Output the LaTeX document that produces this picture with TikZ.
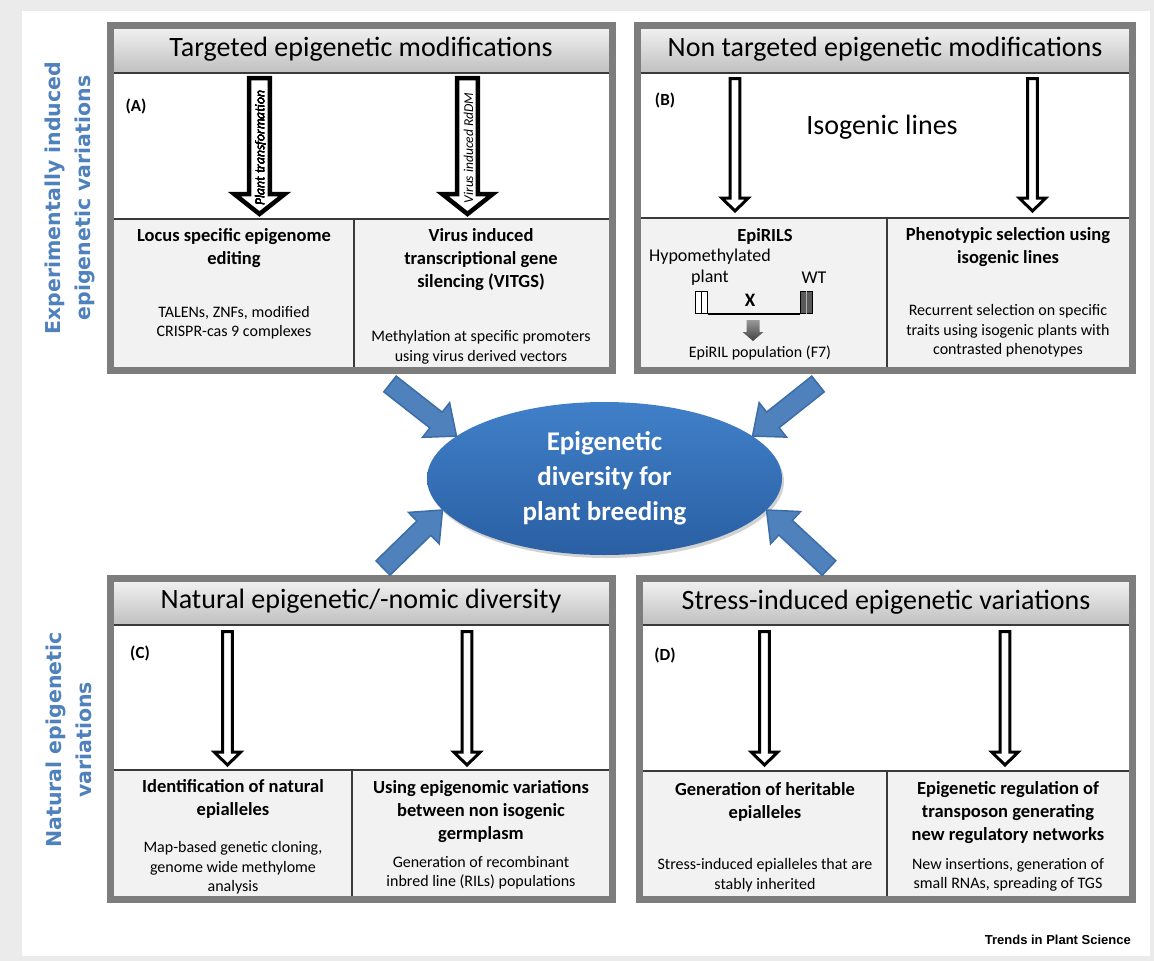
\documentclass[tikz,border=0pt]{standalone}
\usepackage{fontspec}
\setmainfont{Carlito}
\newfontfamily\sidefont{DejaVu Sans}
\newfontfamily\journalfont{Liberation Sans}
\usetikzlibrary{calc,positioning,shapes.geometric,shadows}
\definecolor{backgray}{HTML}{EBEBEB}
\definecolor{framegray}{HTML}{7D7D7D}
\definecolor{cellgray}{HTML}{F2F2F2}
\definecolor{rulegray}{HTML}{3A3A3A}
\definecolor{accentblue}{HTML}{4F81BD}
\definecolor{accentedge}{HTML}{3C6DA8}
\definecolor{coretop}{HTML}{4080C8}
\definecolor{corebottom}{HTML}{2A5FA3}
\tikzset{
  epbox/.style={draw=framegray, line width=7pt},
  ephead/.style={top color=black!6, bottom color=black!25},
  eprule/.style={draw=rulegray, line width=1.5pt},
  ephollow/.style={draw=black, fill=white, line width=4.5pt, line join=miter},
  epthin/.style={draw=black, fill=white, line width=3pt, line join=miter},
  epdark/.style={top color=black!40, bottom color=black!75, draw=none},
  eptitle/.style={font=\fontsize{28}{34}\selectfont, inner sep=0pt},
  epbold/.style={font=\bfseries\fontsize{18.5}{23}\selectfont, align=center, inner sep=0pt},
  epsmall/.style={font=\fontsize{16}{19.5}\selectfont, align=center, inner sep=0pt},
  epplain/.style={font=\fontsize{18}{21}\selectfont, inner sep=0pt},
  eptag/.style={font=\bfseries\fontsize{17}{20}\selectfont, inner sep=0pt},
  epvert/.style={font=\itshape\fontsize{13.5}{16}\selectfont, rotate=90, inner sep=0pt},
  epside/.style={font=\sidefont\bfseries\fontsize{20.5}{30}\selectfont, text=accentblue,
    align=center, rotate=90, inner sep=0pt},
  epbig/.style={fill=accentblue, draw=accentedge, line width=1.5pt, line join=miter},
  epcore/.style={ellipse, minimum width=355pt, minimum height=153pt, inner sep=0pt,
    top color=coretop, bottom color=corebottom, draw=none, text=white, align=center,
    font=\bfseries\fontsize{27}{35}\selectfont,
    drop shadow={opacity=0.35, shadow xshift=2pt, shadow yshift=-3pt}}
}
% hollow down arrow: style, top, tip, head length, shaft half width, head half width
\newcommand{\ephollowarrow}[6]{%
  \draw[#1] ($(#2)+(-#5,0)$) -- ($(#3)+(-#5,-#4)$) -- ($(#3)+(-#6,-#4)$) -- (#3)
    -- ($(#3)+(#6,-#4)$) -- ($(#3)+(#5,-#4)$) -- ($(#2)+(#5,0)$) -- cycle;}
% blue block arrow from tail to tip
\newcommand{\epblock}[2]{%
  \coordinate (ebBase) at ($(#2)!26pt!(#1)$);
  \draw[epbig] ($(#1)!10pt!90:(#2)$) -- ($(ebBase)!10pt!90:(#2)$) -- ($(ebBase)!22pt!90:(#2)$)
    -- (#2) -- ($(ebBase)!22pt!-90:(#2)$) -- ($(ebBase)!10pt!-90:(#2)$) -- ($(#1)!10pt!-90:(#2)$) -- cycle;}

\begin{document}
\begin{tikzpicture}[x=1pt, y=-1pt]
\useasboundingbox (0,0) rectangle (1154,961);
\fill[backgray] (0,0) rectangle (1154,961);
\fill[white] (22,11) rectangle (1150,956);

% the four panels
\foreach \xa/\ya/\xb/\yb/\yh/\ys/\xd in {107/22/616/374/73/219/354, 634/22/1136/374/73/218/887,
    107/575/616/903/625/770/352, 636/575/1136/903/625/771/887}{
  \fill[cellgray] ({\xa+7},\ys) rectangle ({\xb-7},{\yb-7});
  \shade[ephead] ({\xa+7},{\ya+7}) rectangle ({\xb-7},\yh);
  \draw[eprule] ({\xa+7},\yh) -- ({\xb-7},\yh);
  \draw[eprule] ({\xa+7},\ys) -- ({\xb-7},\ys);
  \draw[eprule] (\xd,\ys) -- (\xd,{\yb-7});
  \draw[epbox] ({\xa+3.5},{\ya+3.5}) rectangle ({\xb-3.5},{\yb-3.5});
}

\node[eptitle] (hdA) at (361,49) {Targeted epigenetic modifications};
\node[eptitle] (hdB) at (885,49) {Non targeted epigenetic modifications};
\node[eptitle] (hdC) at (361,601) {Natural epigenetic/-nomic diversity};
\node[eptitle] (hdD) at (886,602) {Stress-induced epigenetic variations};

\node[eptag] (tagA) at (136,106) {(A)};
\node[eptag] (tagB) at (665,100) {(B)};
\node[eptag] (tagC) at (140,653) {(C)};
\node[eptag] (tagD) at (665,655) {(D)};

\node[epside] (sideTop) at (70,198) {Experimentally induced\\epigenetic variations};
\node[epside] (sideBot) at (69,740) {Natural epigenetic\\variations};

\node[eptitle] (iso) at (882,127) {Isogenic lines};

% hollow arrows
\coordinate (topA1) at (259.5,78);   \coordinate (tipA1) at (259.5,214);
\coordinate (topA2) at (467.5,78);   \coordinate (tipA2) at (467.5,214);
\coordinate (topB1) at (735,78.5);   \coordinate (tipB1) at (735,211);
\coordinate (topB2) at (1032.5,78.5);\coordinate (tipB2) at (1032.5,211);
\coordinate (topC1) at (227.5,631.5);\coordinate (tipC1) at (227.5,765);
\coordinate (topC2) at (467,631.5);  \coordinate (tipC2) at (467,765);
\coordinate (topD1) at (764.5,631.5);\coordinate (tipD1) at (764.5,765);
\coordinate (topD2) at (1005,631.5); \coordinate (tipD2) at (1005,765);
\ephollowarrow{ephollow}{topA1}{tipA1}{20}{10.3}{25.3}
\ephollowarrow{ephollow}{topA2}{tipA2}{20}{10.3}{25.3}
\foreach \n in {B1,B2,C1,C2,D1,D2}
  \ephollowarrow{epthin}{top\n}{tip\n}{13}{4.8}{13.3}
\node[epvert] (lblA1) at (260.5,148) {Plant transformation};
\node[epvert] (lblA2) at (468.5,148) {Virus induced RdDM};

% panel A cells
\node[epbold] (cellA1) at (234,248.5) {Locus specific epigenome\\editing};
\node[epsmall] (noteA1) at (234,322.5) {TALENs, ZNFs, modified\\CRISPR-cas 9 complexes};
\node[epbold] (cellA2) at (481,260) {Virus induced\\transcriptional gene\\silencing (VITGS)};
\node[epsmall] (noteA2) at (481,347.5) {Methylation at specific promoters\\using virus derived vectors};

% panel B cells
\node[epbold] (cellB1) at (765,236) {EpiRILS};
\node[epplain] (hypoTxt) at (710,257) {Hypomethylated};
\node[epplain] (plantTxt) at (710,278) {plant};
\node[epplain] (wtTxt) at (814,278) {WT};
\node[draw, line width=1pt, fill=white, minimum width=12pt, minimum height=22pt, inner sep=0pt] (hypoBar) at (701,302) {};
\draw[line width=0.8pt] (hypoBar.north) -- (hypoBar.south);
\node[draw, line width=1pt, fill=black!65, minimum width=12pt, minimum height=22pt, inner sep=0pt] (wtBar) at (806,302) {};
\draw[line width=1pt, black!30] (wtBar.north) -- (wtBar.south);
\draw[line width=2pt] (hypoBar.south east) -- (wtBar.south west);
\node[font=\bfseries\fontsize{19}{21}\selectfont, inner sep=0pt] (cross) at (750,300) {X};
\coordinate (topEpi) at (753,320); \coordinate (tipEpi) at (753,341);
\ephollowarrow{epdark}{topEpi}{tipEpi}{9}{6.5}{10.5}
\node[epsmall] (popTxt) at (760,353) {EpiRIL population (F7)};
\node[epbold] (cellB2) at (1008,247) {Phenotypic selection using\\isogenic lines};
\node[epsmall] (noteB2) at (1008,331) {Recurrent selection on specific\\traits using isogenic plants with\\contrasted phenotypes};

% panel C cells
\node[epbold] (cellC1) at (233,798.5) {Identification of natural\\epialleles};
\node[epsmall] (noteC1) at (233,868) {Map-based genetic cloning,\\genome wide methylome\\analysis};
\node[epbold] (cellC2) at (481,812) {Using epigenomic variations\\between non isogenic\\germplasm};
\node[epsmall] (noteC2) at (481,872.5) {Generation of recombinant\\inbred line (RILs) populations};

% panel D cells
\node[epbold] (cellD1) at (765,801.5) {Generation of heritable\\epialleles};
\node[epsmall] (noteD1) at (765,875) {Stress-induced epialleles that are\\stably inherited};
\node[epbold] (cellD2) at (1008,813) {Epigenetic regulation of\\transposon generating\\new regulatory networks};
\node[epsmall] (noteD2) at (1008,875) {New insertions, generation of\\small RNAs, spreading of TGS};

% centre
\node[epcore] (core) at (604.5,478.5) {Epigenetic\\diversity for\\plant breeding};
\coordinate (tailTL) at (390,384);
\coordinate (tailTR) at (818,384);
\coordinate (tailBL) at (383,568);
\coordinate (tailBR) at (829,568);
\epblock{tailTL}{core.164}
\epblock{tailTR}{core.16}
\epblock{tailBL}{core.191}
\epblock{tailBR}{core.349}

\node[font=\journalfont\bfseries\fontsize{13}{15}\selectfont, anchor=east, inner sep=0pt] (journal) at (1131,940) {Trends in Plant Science};
\end{tikzpicture}
\end{document}
